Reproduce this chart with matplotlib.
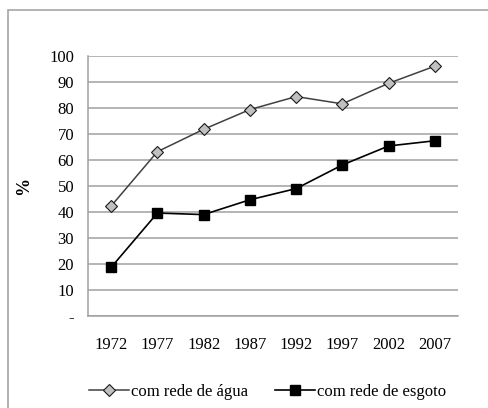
import matplotlib.pyplot as plt
from matplotlib.patches import Rectangle

years = ['1972', '1977', '1982', '1987', '1992', '1997', '2002', '2007']
agua = [42.3, 63.2, 71.8, 79.4, 84.4, 81.6, 89.5, 96.1]
esgoto = [18.7, 39.6, 39.0, 44.7, 49.0, 58.1, 65.4, 67.4]
yticks = [0, 10, 20, 30, 40, 50, 60, 70, 80, 90, 100]
ytick_labels = ['-', '10', '20', '30', '40', '50', '60', '70', '80', '90', '100']

plt.rcParams['font.family'] = 'Liberation Serif'
plt.rcParams['font.size'] = 12

W, H = 488, 408
fig = plt.figure(figsize=(W / 100, H / 100), dpi=100)

# outer chart border (only top and left are visible in the crop)
fig.patches.append(Rectangle((8 / W, -0.1), 1.2, (H - 10) / H + 0.1,
                             transform=fig.transFigure, fill=False,
                             edgecolor='#a6a6a6', linewidth=1.2, clip_on=False))

ax = fig.add_axes([88 / W, (H - 316) / H, 370 / W, 260 / H])
x = range(len(years))

ax.plot(x, agua, color='#404040', linewidth=1.1, marker='D', markersize=6,
        markerfacecolor='#c0c0c0', markeredgecolor='#1a1a1a', markeredgewidth=0.8,
        label='com rede de água', zorder=3)
ax.plot(x, esgoto, color='black', linewidth=1.2, marker='s', markersize=6.5,
        markerfacecolor='black', markeredgecolor='black',
        label='com rede de esgoto', zorder=3)

ax.set_xlim(-0.5, len(years) - 0.5)
ax.set_ylim(0, 100)
ax.set_xticks(list(x))
ax.set_xticklabels(years)
ax.set_yticks(yticks)
ax.set_yticklabels(ytick_labels)
ax.tick_params(length=0, pad=10)
ax.tick_params(axis='x', pad=15)
ax.yaxis.grid(True, color='#a0a0a0', linewidth=1.1)
ax.set_axisbelow(True)
for s in ['top', 'right']:
    ax.spines[s].set_visible(False)
for s in ['left', 'bottom']:
    ax.spines[s].set_color('#a0a0a0')
    ax.spines[s].set_linewidth(1.1)

ax.set_ylabel('%', fontweight='bold', fontsize=13, labelpad=12)

ax.legend(loc='upper center', bbox_to_anchor=(0.5 - 0.015, -0.205), ncol=2,
          frameon=False, handlelength=2.4, columnspacing=1.6, handletextpad=0.15)

fig.savefig('out.png', dpi=100)
